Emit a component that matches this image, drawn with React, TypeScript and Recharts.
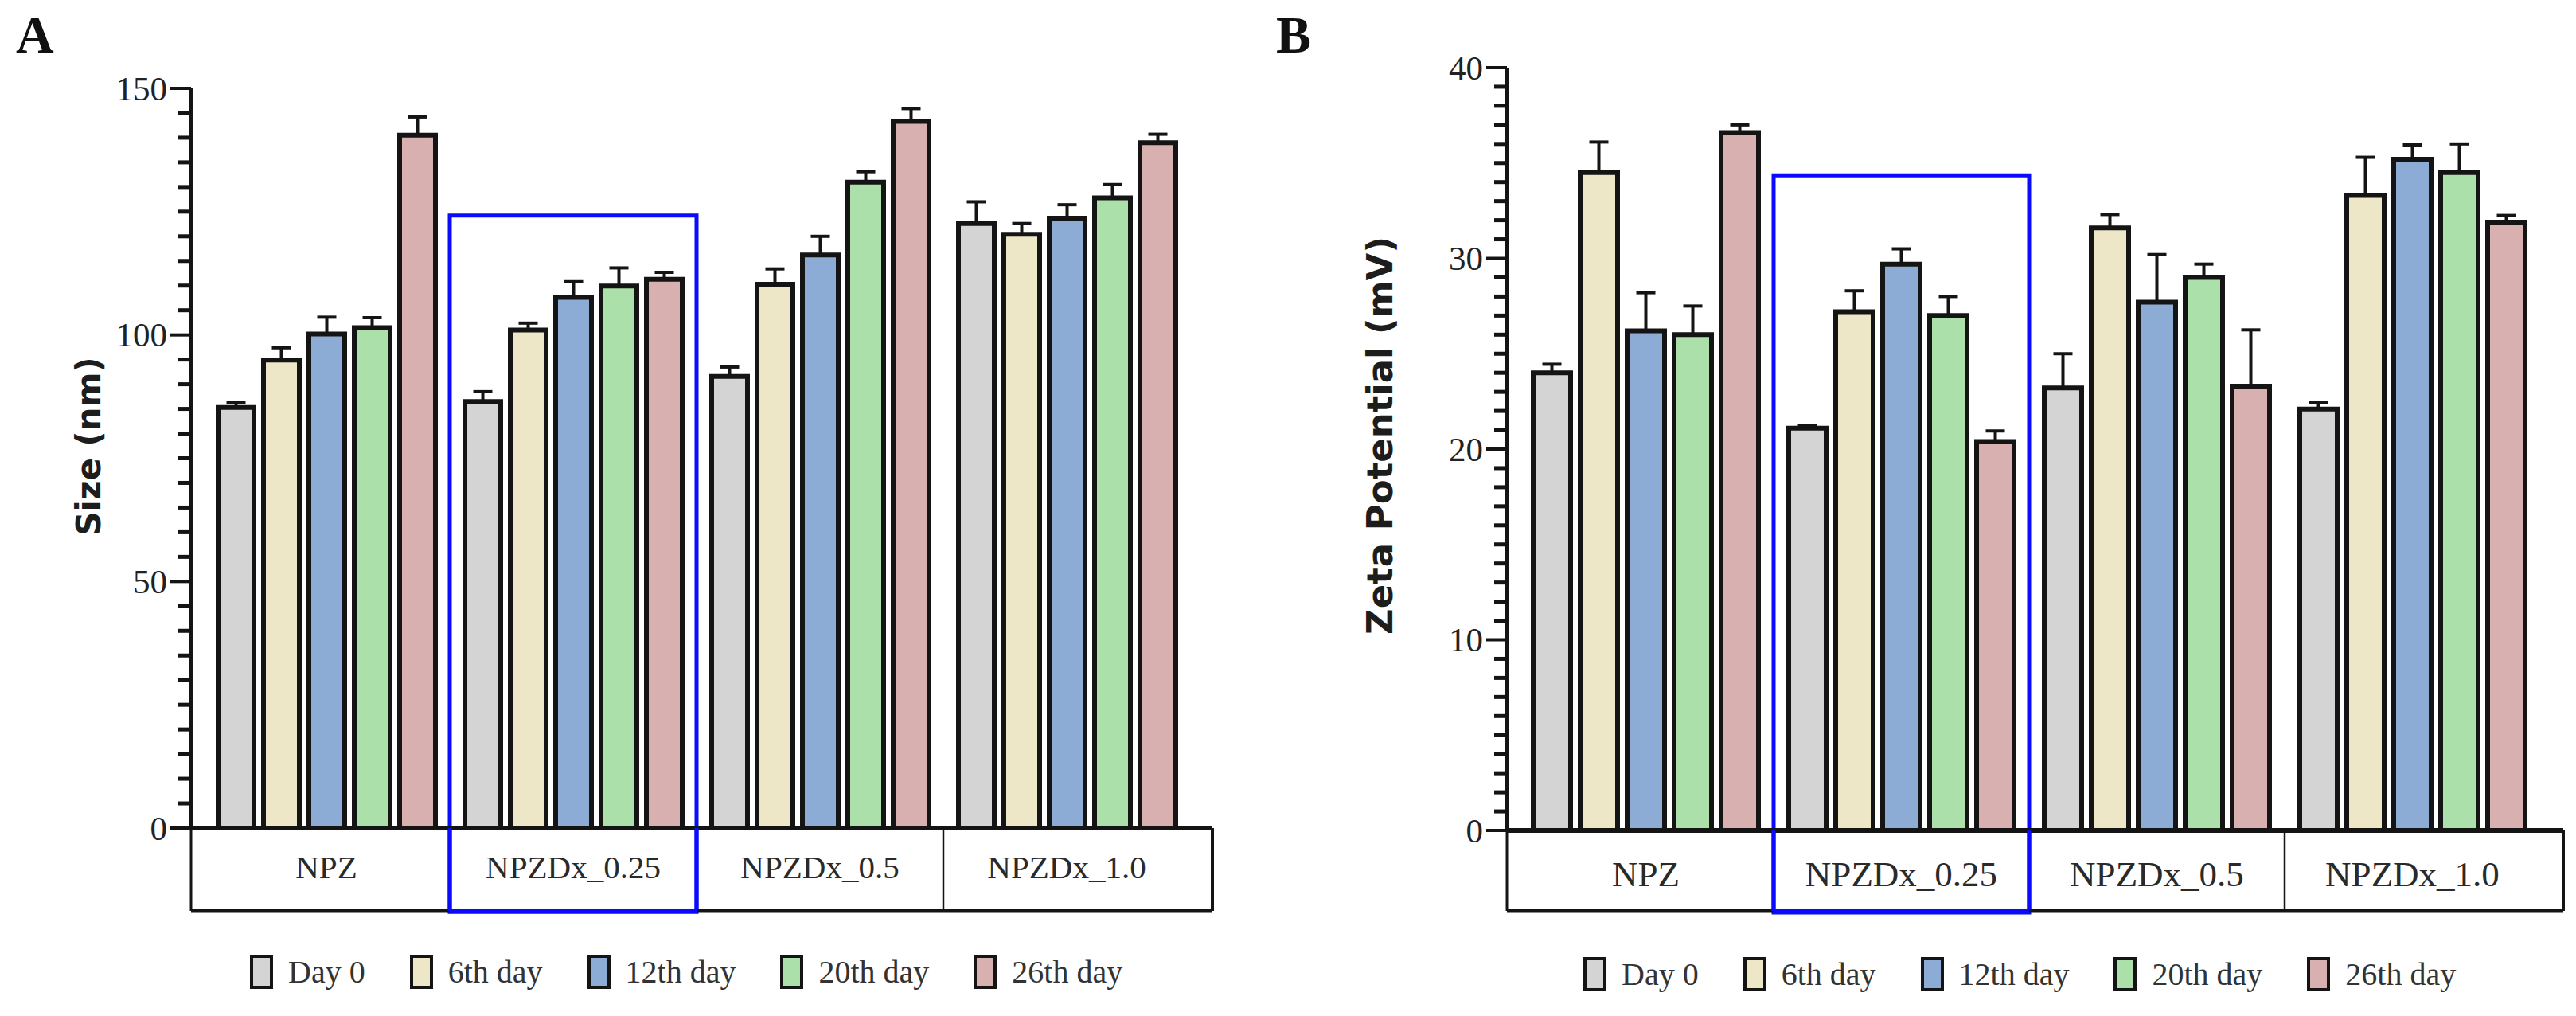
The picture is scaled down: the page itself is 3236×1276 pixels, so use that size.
import React from "react";
import { BarChart, Bar, XAxis, YAxis, ErrorBar, Legend, ReferenceArea } from "recharts";

const categories = ["NPZ", "NPZDx_0.25", "NPZDx_0.5", "NPZDx_1.0"];
const seriesKeys = ["day0", "day6", "day12", "day20", "day26"];
const seriesNames = ["Day 0", "6th day", "12th day", "20th day", "26th day"];
const seriesColors = ["#d4d4d4", "#ede6c7", "#8cabd5", "#ace0aa", "#d9b0b0"];

// A: size (nm) – mean per category, then the upper SD
const sizeDay0 = [85.3, 86.5, 91.6, 122.6];
const sizeDay6 = [94.9, 101.0, 110.3, 120.4];
const sizeDay12 = [100.2, 107.6, 116.2, 123.7];
const sizeDay20 = [101.5, 109.9, 131.0, 127.8];
const sizeDay26 = [140.5, 111.3, 143.3, 139.0];
const sizeErrDay0 = [1.0, 2.0, 1.9, 4.4];
const sizeErrDay6 = [2.5, 1.4, 3.1, 2.2];
const sizeErrDay12 = [3.4, 3.2, 3.8, 2.7];
const sizeErrDay20 = [2.0, 3.7, 2.1, 2.7];
const sizeErrDay26 = [3.7, 1.4, 2.6, 1.7];

// B: zeta potential (mV)
const zetaDay0 = [24.0, 21.1, 23.2, 22.1];
const zetaDay6 = [34.5, 27.2, 31.6, 33.3];
const zetaDay12 = [26.2, 29.7, 27.7, 35.2];
const zetaDay20 = [26.0, 27.0, 29.0, 34.5];
const zetaDay26 = [36.6, 20.4, 23.3, 31.9];
const zetaErrDay0 = [0.45, 0.15, 1.8, 0.35];
const zetaErrDay6 = [1.6, 1.1, 0.7, 2.0];
const zetaErrDay12 = [2.0, 0.8, 2.5, 0.75];
const zetaErrDay20 = [1.5, 1.0, 0.7, 1.5];
const zetaErrDay26 = [0.4, 0.55, 2.95, 0.35];

const sizeMajorTicks = [0, 50, 100, 150];
const sizeMinorStep = 5;
const zetaMajorTicks = [0, 10, 20, 30, 40];
const zetaMinorStep = 1;

// highlighted group and the vertical extent of its frame (axis units)
const highlighted = "NPZDx_0.25";
const sizeFrame = [-17, 124.2];
const zetaFrame = [-4.3, 34.35];

const H = 1276;
const X_AXIS_H = 108;
const SERIF = "'Liberation Serif', 'Times New Roman', serif";
const SANS = "'DejaVu Sans', Verdana, sans-serif";
const INK = "#141414";
const BLUE = "#0a0aff";

function toRows(values: number[][], errors: number[][]) {
  return categories.map((name, i) => {
    const row: Record<string, any> = { name };
    seriesKeys.forEach((k, s) => {
      row[k] = values[s][i];
      row[k + "Err"] = [0, errors[s][i]];
    });
    return row;
  });
}

function minorValues(majors: number[], step: number) {
  const out: number[] = [];
  const top = majors[majors.length - 1];
  for (let v = majors[0] + step; v < top - 1e-9; v += step) {
    const r = Math.round(v * 1000) / 1000;
    if (!majors.includes(r)) out.push(r);
  }
  return out;
}

function ValueTick(props: any) {
  const { x, y, payload, fontSize } = props;
  return (
    <g>
      <line x1={x - 26} y1={y} x2={x} y2={y} stroke={INK} strokeWidth={4} />
      <text x={x - 30} y={y} textAnchor="end" dominantBaseline="central" fontFamily={SERIF} fontSize={fontSize} fill="#222">
        {payload.value}
      </text>
    </g>
  );
}

function CategoryTick(props: any) {
  const { x, y, payload, index, half, padLeft, padRight, boxH, fontSize, textDy } = props;
  const idx = typeof index === "number" ? index : payload.index;
  const last = categories.length - 1;
  const left = x - half - (idx === 0 ? padLeft : 0);
  const right = x + half + (idx === last ? padRight : 0);
  const hl = payload.value === highlighted;
  const prevHl = categories[idx - 1] === highlighted;
  return (
    <g>
      {!prevHl && !hl && <line x1={left} y1={y} x2={left} y2={y + boxH} stroke={INK} strokeWidth={idx === 0 ? 3 : 2.5} />}
      {idx === last && <line x1={right} y1={y} x2={right} y2={y + boxH} stroke={INK} strokeWidth={4} />}
      <line x1={left} y1={y + boxH} x2={right} y2={y + boxH} stroke={hl ? BLUE : INK} strokeWidth={5} />
      {hl && (
        <g stroke={BLUE} strokeWidth={5}>
          <line x1={left} y1={y} x2={left} y2={y + boxH} />
          <line x1={right} y1={y} x2={right} y2={y + boxH} />
        </g>
      )}
      <text x={x} y={y + textDy} textAnchor="middle" dominantBaseline="central" fontFamily={SERIF} fontSize={fontSize} fill="#2a2a2a">
        {payload.value}
      </text>
    </g>
  );
}

// rotated y title, plus the short unlabeled minor ticks along the axis
function AxisTitle(props: any) {
  const { viewBox, text, dx, dy, size, lo, hi, minors } = props;
  const vb = viewBox || { x: 0, y: 0, width: 0, height: 0 };
  const ax = vb.x + vb.width;
  const cx = ax + dx;
  const cy = vb.y + vb.height / 2 + dy;
  return (
    <g>
      {minors.map((v: number) => {
        const ty = vb.y + vb.height * (1 - (v - lo) / (hi - lo));
        return <rect key={v} x={ax - 16} y={ty - 2.5} width={16} height={5} fill={INK} />;
      })}
      <text x={cx} y={cy} transform={`rotate(-90 ${cx} ${cy})`} textAnchor="middle" dominantBaseline="central"
        fontFamily={SANS} fontWeight="bold" fontSize={size} fill="#1d1d1d">
        {text}
      </text>
    </g>
  );
}

function LegendRow(props: any) {
  const { height, padTop } = props;
  return (
    <div style={{ display: "flex", alignItems: "center", height, paddingTop: padTop, boxSizing: "border-box" }}>
      {seriesNames.map((n, i) => (
        <div key={n} style={{ display: "flex", alignItems: "center", marginRight: 56 }}>
          <div style={{ width: 21, height: 35, background: seriesColors[i], border: `4px solid ${INK}` }} />
          <span style={{ marginLeft: 19, fontFamily: SERIF, fontSize: 40, color: "#333", whiteSpace: "nowrap" }}>{n}</span>
        </div>
      ))}
    </div>
  );
}

function Panel(p: any) {
  const rows = toRows(p.values, p.errors);
  const lo = p.majors[0];
  const hi = p.majors[p.majors.length - 1];
  return (
    <div style={{ position: "absolute", left: p.left, top: 0 }}>
      <BarChart width={p.width} height={H} data={rows} margin={p.margin} barSize={p.barSize} barGap={p.barGap}>
        <XAxis
          dataKey="name"
          type="category"
          padding={{ left: p.padLeft, right: p.padRight }}
          height={X_AXIS_H}
          axisLine={{ stroke: INK, strokeWidth: 6 }}
          tickLine={false}
          tickSize={0}
          tickMargin={0}
          interval={0}
          tick={<CategoryTick half={p.half} padLeft={p.padLeft} padRight={p.padRight} boxH={p.boxH} fontSize={p.catFont} textDy={p.catDy} />}
        />
        <YAxis
          type="number"
          domain={[lo, hi]}
          ticks={p.majors}
          interval={0}
          width={120}
          tickLine={false}
          tickSize={0}
          tickMargin={0}
          axisLine={{ stroke: INK, strokeWidth: 5 }}
          tick={<ValueTick fontSize={p.tickFont} />}
          label={
            <AxisTitle text={p.title} dx={p.titleDx} dy={p.titleDy} size={p.titleSize} lo={lo} hi={hi}
              minors={minorValues(p.majors, p.minorStep)} />
          }
        />
        {seriesKeys.map((k, i) => (
          <Bar key={k} dataKey={k} name={seriesNames[i]} fill={seriesColors[i]} stroke={INK} strokeWidth={6} isAnimationActive={false}>
            <ErrorBar dataKey={k + "Err"} direction="y" width={12} stroke={INK} strokeWidth={4} isAnimationActive={false} />
          </Bar>
        ))}
        <ReferenceArea
          x1={highlighted}
          x2={highlighted}
          y1={p.frame[0]}
          y2={p.frame[1]}
          ifOverflow="visible"
          fill="none"
          fillOpacity={0}
          stroke={BLUE}
          strokeWidth={5}
        />
        <Legend
          verticalAlign="bottom"
          height={p.legendHeight}
          wrapperStyle={{ left: p.legendLeft, width: 1250 }}
          content={<LegendRow height={p.legendHeight} padTop={p.legendPadTop} />}
        />
      </BarChart>
    </div>
  );
}

const letterStyle = (left: number): React.CSSProperties => ({
  position: "absolute",
  left,
  top: 11,
  fontFamily: SERIF,
  fontWeight: "bold",
  fontSize: 66,
  lineHeight: "66px",
  color: "#111",
});

export default function App() {
  return (
    <div style={{ position: "absolute", left: 0, top: 0, width: 3236, height: H, background: "#fff", overflow: "hidden" }}>
      <div style={letterStyle(20)}>A</div>
      <div style={letterStyle(1603)}>B</div>
      <Panel
        left={0}
        width={1560}
        margin={{ top: 111, right: 37, bottom: 0, left: 120 }}
        values={[sizeDay0, sizeDay6, sizeDay12, sizeDay20, sizeDay26]}
        errors={[sizeErrDay0, sizeErrDay6, sizeErrDay12, sizeErrDay20, sizeErrDay26]}
        majors={sizeMajorTicks}
        minorStep={sizeMinorStep}
        frame={sizeFrame}
        barSize={45}
        barGap={12}
        padLeft={15}
        padRight={28}
        half={155}
        boxH={104}
        catFont={41}
        catDy={49}
        tickFont={43}
        title="Size (nm)"
        titleDx={-129}
        titleDy={-15}
        titleSize={42}
        legendHeight={128}
        legendPadTop={16}
        legendLeft={314}
      />
      <Panel
        left={1600}
        width={1636}
        margin={{ top: 85, right: 16, bottom: 0, left: 173 }}
        values={[zetaDay0, zetaDay6, zetaDay12, zetaDay20, zetaDay26]}
        errors={[zetaErrDay0, zetaErrDay6, zetaErrDay12, zetaErrDay20, zetaErrDay26]}
        majors={zetaMajorTicks}
        minorStep={zetaMinorStep}
        frame={zetaFrame}
        barSize={47}
        barGap={12}
        padLeft={14}
        padRight={29}
        half={160.5}
        boxH={101}
        catFont={45}
        catDy={55}
        tickFont={43}
        title="Zeta Potential (mV)"
        titleDx={-160}
        titleDy={-17}
        titleSize={45}
        legendHeight={125}
        legendPadTop={19}
        legendLeft={389}
      />
    </div>
  );
}
